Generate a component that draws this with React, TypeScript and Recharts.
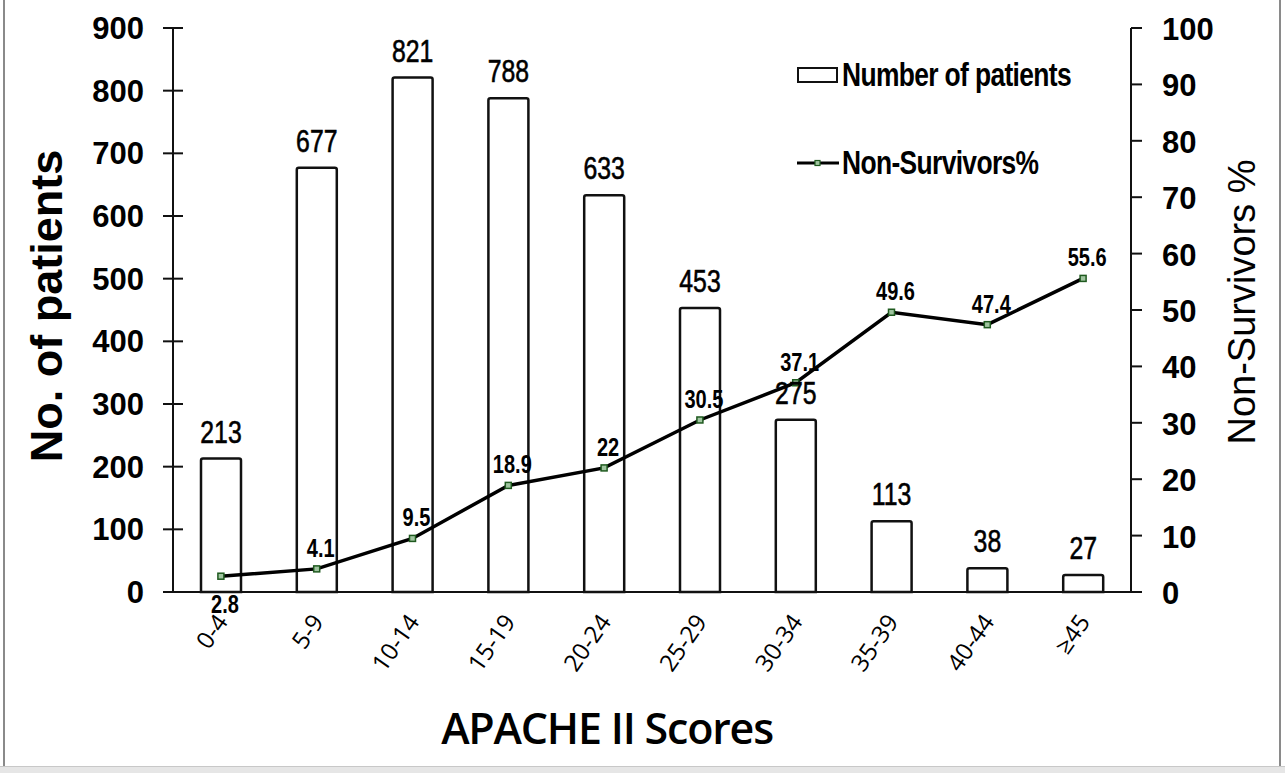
import React from "react"
import { Bar, ComposedChart, LabelList, Line, XAxis, YAxis } from "recharts"

const categories = ["0-4", "5-9", "10-14", "15-19", "20-24", "25-29", "30-34", "35-39", "40-44", "≥45"]
const patients = [213, 677, 821, 788, 633, 453, 275, 113, 38, 27]
const nonSurvivors = [2.8, 4.1, 9.5, 18.9, 22, 30.5, 37.1, 49.6, 47.4, 55.6]
const leftTicks = [0, 100, 200, 300, 400, 500, 600, 700, 800, 900]
const rightTicks = [0, 10, 20, 30, 40, 50, 60, 70, 80, 90, 100]

const data = categories.map((cat, i) => ({ cat, patients: patients[i], pct: nonSurvivors[i] }))

const arial = "'Liberation Sans', Arial, sans-serif"
const calibri = "'Open Sans', 'Noto Sans', sans-serif"

// Arial Narrow look-alike: squeeze Liberation Sans horizontally
function NarrowText({ x, y, children, size, bold }: any) {
  return (
    <text
      transform={`translate(${x},${y}) scale(0.8,1)`}
      textAnchor="middle"
      fontFamily={arial}
      fontWeight={bold ? "bold" : "normal"}
      fontSize={size}
      fill="#000"
      stroke="#000"
      strokeWidth={bold ? 0 : 0.6}
    >
      {children}
    </text>
  )
}

function LeftTick({ x, y, payload }: any) {
  return (
    <g>
      <line x1={x - 10} x2={x + 10} y1={y} y2={y} stroke="#111" strokeWidth={2} />
      <text x={x - 29} y={y} dy={11} textAnchor="end" fontFamily={arial} fontWeight="bold" fontSize={31} fill="#000">
        {payload.value}
      </text>
    </g>
  )
}

function CatTick({ x, y, payload }: any) {
  return (
    <text
      transform={`translate(${x + 8},${y + 22}) rotate(-55)`}
      textAnchor="end"
      fontFamily={calibri}
      fontSize={24}
      fill="#000"
    >
      {payload.value}
    </text>
  )
}

function SquareDot({ cx, cy }: any) {
  return <rect x={cx - 3} y={cy - 3} width={6} height={6} fill="#9fc49f" stroke="#1f5a1f" strokeWidth={1.5} />
}

function BarValue({ x, y, width, value }: any) {
  return (
    <NarrowText x={x + width / 2} y={y - 16} size={31}>
      {value}
    </NarrowText>
  )
}

function PctLabel({ x, y, value, index }: any) {
  const below = index === 0
  return (
    <NarrowText x={x + 4} y={below ? y + 37 : y - 12} size={25} bold>
      {value}
    </NarrowText>
  )
}

function LegendBox() {
  const txt: React.CSSProperties = {
    fontFamily: arial,
    fontWeight: "bold",
    fontSize: 33,
    letterSpacing: -0.8,
    color: "#000",
    display: "inline-block",
    transform: "scaleX(0.8)",
    transformOrigin: "left center",
    whiteSpace: "nowrap",
  }
  return (
    <div style={{ position: "absolute", left: 797, top: 60, width: 360 }}>
      <div style={{ display: "flex", alignItems: "center", height: 30 }}>
        <span style={{ width: 37, height: 12, border: "2px solid #111", marginRight: 4, flexShrink: 0 }} />
        <span style={txt}>Number of patients</span>
      </div>
      <div style={{ display: "flex", alignItems: "center", height: 30, marginTop: 58 }}>
        <svg width={44} height={12} style={{ marginRight: 1, flexShrink: 0 }}>
          <line x1={0} x2={42} y1={6} y2={6} stroke="#000" strokeWidth={3} />
          <rect x={18} y={3.5} width={5} height={5} fill="#9fc49f" stroke="#1f5a1f" strokeWidth={1.2} />
        </svg>
        <span style={txt}>Non-Survivors%</span>
      </div>
    </div>
  )
}

export default function App() {
  return (
    <div style={{ position: "fixed", left: 0, top: 0, width: 1285, height: 773, background: "#fff", overflow: "hidden" }}>
      <div style={{ position: "absolute", left: 3, top: 0, width: 2, height: 766, background: "#8a8a8a" }} />
      <div style={{ position: "absolute", left: 1279, top: 0, width: 2, height: 766, background: "#8a8a8a" }} />
      <div style={{ position: "absolute", left: 0, top: 766, width: 1285, height: 7, background: "#e6e6e6", borderTop: "1px solid #c8c8c8" }} />
      <ComposedChart width={1285} height={773} data={data} margin={{ top: 28, right: 0, bottom: 0, left: 0 }} barSize={40}>
        <XAxis
          dataKey="cat"
          height={181}
          interval={0}
          tickLine={false}
          axisLine={{ stroke: "#111", strokeWidth: 2 }}
          tick={<CatTick />}
          label={() => (
            <text x={607} y={744} textAnchor="middle" fontFamily={calibri} fontWeight={600} fontSize={43} letterSpacing={-1.2} fill="#000">
              APACHE II Scores
            </text>
          )}
        />
        <YAxis
          yAxisId="left"
          width={173}
          domain={[0, 900]}
          ticks={leftTicks}
          interval={0}
          tickSize={0}
          tickMargin={0}
          tickLine={false}
          axisLine={{ stroke: "#111", strokeWidth: 2 }}
          tick={<LeftTick />}
          label={() => (
            <text transform="translate(62,306) rotate(-90)" textAnchor="middle" fontFamily={arial} fontWeight="bold" fontSize={45} fill="#000">
              No. of patients
            </text>
          )}
        />
        <YAxis
          yAxisId="right"
          orientation="right"
          width={154}
          domain={[0, 100]}
          ticks={rightTicks}
          interval={0}
          tickSize={11}
          tickMargin={20}
          tickLine={{ stroke: "#111", strokeWidth: 2 }}
          axisLine={{ stroke: "#111", strokeWidth: 2 }}
          tick={{ fontFamily: arial, fontWeight: "bold", fontSize: 31, fill: "#000", dy: 1 }}
          label={() => (
            <text transform="translate(1255,302) rotate(-90)" textAnchor="middle" fontFamily={arial} fontSize={38} fill="#000">
              Non-Survivors %
            </text>
          )}
        />
        <Bar
          yAxisId="left"
          dataKey="patients"
          name="Number of patients"
          fill="#fff"
          stroke="#111"
          strokeWidth={2.5}
          radius={[2, 2, 0, 0]}
          isAnimationActive={false}
        >
          <LabelList dataKey="patients" content={<BarValue />} />
        </Bar>
        <Line
          yAxisId="right"
          dataKey="pct"
          name="Non-Survivors%"
          stroke="#000"
          strokeWidth={3.5}
          dot={<SquareDot />}
          activeDot={false}
          isAnimationActive={false}
        >
          <LabelList dataKey="pct" content={<PctLabel />} />
        </Line>
      </ComposedChart>
      <LegendBox />
    </div>
  )
}
